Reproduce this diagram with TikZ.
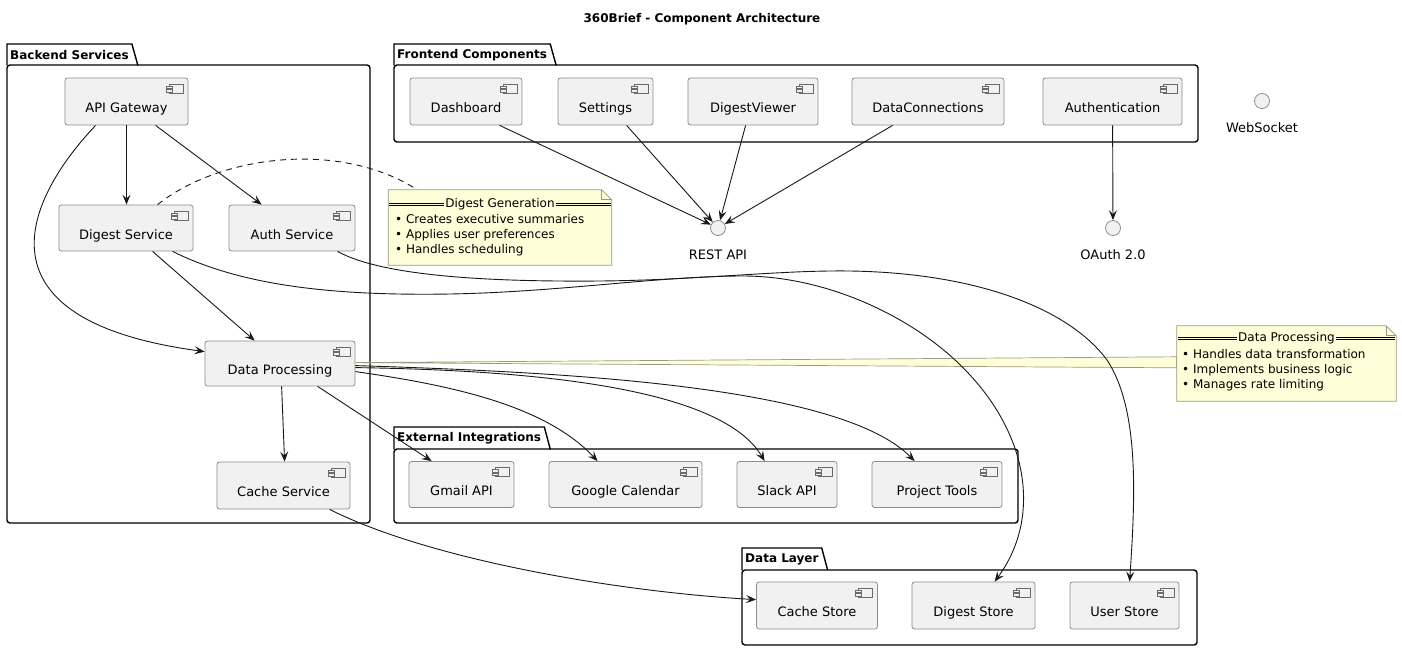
\documentclass[tikz,border=0pt]{standalone}
\usepackage{fontspec}
\setmainfont{DejaVu Sans}
\usetikzlibrary{arrows.meta,calc}
\definecolor{compfill}{HTML}{F1F1F1}
\definecolor{compline}{HTML}{8C8C8C}
\definecolor{iconline}{HTML}{6A6A6A}
\definecolor{notefill}{HTML}{FEFED8}
\definecolor{noteline}{HTML}{9A9A80}
\definecolor{edgecol}{HTML}{181818}
\tikzset{
  comp/.style={draw=compline, fill=compfill, rounded corners=2.5pt, line width=0.8pt,
    inner sep=0pt, text height=24.5pt, text depth=2pt, font=\fontsize{13}{15}\selectfont,
    path picture={
      \coordinate (pne) at (path picture bounding box.north east);
      \draw[iconline, fill=compfill, line width=0.6pt, sharp corners] ([xshift=-19pt,yshift=-6pt]pne) rectangle ([xshift=-5pt,yshift=-15pt]pne);
      \draw[iconline, fill=compfill, line width=0.6pt, sharp corners] ([xshift=-22pt,yshift=-8pt]pne) rectangle ([xshift=-16pt,yshift=-10.5pt]pne);
      \draw[iconline, fill=compfill, line width=0.6pt, sharp corners] ([xshift=-22pt,yshift=-11.5pt]pne) rectangle ([xshift=-16pt,yshift=-14pt]pne);
    }},
  iface/.style={circle, draw=compline, fill=compfill, minimum size=15pt, inner sep=0pt, line width=0.8pt},
  ifacelbl/.style={font=\fontsize{13}{15}\selectfont, anchor=base, inner sep=0pt},
  pkgtitle/.style={font=\bfseries\fontsize{12}{14}\selectfont, anchor=north west, inner xsep=3pt, inner ysep=0pt},
  pkgline/.style={draw=black, line width=1.4pt},
  notebox/.style={inner sep=0pt},
  noteshape/.style={draw=noteline, fill=notefill, line width=0.7pt},
  notehead/.style={font=\fontsize{12}{14}\selectfont, inner xsep=1pt, inner ysep=0pt},
  notetext/.style={font=\fontsize{12}{14}\selectfont, inner sep=0pt, anchor=base west},
  hdrline/.style={draw=black, line width=0.6pt},
  edge/.style={draw=edgecol, line width=0.9pt, -{Stealth[length=10pt,width=8pt,inset=4pt]}},
  noteedge/.style={draw=edgecol, line width=0.9pt, dash pattern=on 6pt off 5pt},
}
\begin{document}
\begin{tikzpicture}[x=1pt,y=-1pt]
\useasboundingbox (0,0) rectangle (1402,651);

% title
\node[font=\bfseries\fontsize{12}{14}\selectfont] (title) at (702,19) {360Brief - Component Architecture};

% ---------- packages ----------
\node[pkgtitle, minimum height=21pt] (bt) at (7,44) {Backend Services};
\draw[pkgline] (bt.south west) -- (bt.north west) -- (bt.north east) -- ([xshift=6pt]bt.south east);
\draw[pkgline, rounded corners=3pt] (7,65) rectangle (370,523);

\node[pkgtitle, minimum height=21pt] (ft) at (394,44) {Frontend Components};
\draw[pkgline] (ft.south west) -- (ft.north west) -- (ft.north east) -- ([xshift=6pt]ft.south east);
\draw[pkgline, rounded corners=3pt] (394,65) rectangle (1198,142);

\node[pkgtitle, minimum height=22pt] (et) at (394,427) {External Integrations};
\draw[pkgline] (et.south west) -- (et.north west) -- (et.north east) -- ([xshift=6pt]et.south east);
\draw[pkgline, rounded corners=3pt] (394,449) rectangle (1018,523);

\node[pkgtitle, minimum height=22pt] (lt) at (742,548) {Data Layer};
\draw[pkgline] (lt.south west) -- (lt.north west) -- (lt.north east) -- ([xshift=6pt]lt.south east);
\draw[pkgline, rounded corners=3pt] (742,570) rectangle (1197,645);

% ---------- components ----------
\node[comp, minimum width=123pt, minimum height=47pt] (gw) at (126.5,101.5) {API Gateway};
\node[comp, minimum width=134pt, minimum height=46pt] (dsvc) at (126,228) {Digest Service};
\node[comp, minimum width=126pt, minimum height=46pt] (asvc) at (292,228) {Auth Service};
\node[comp, minimum width=150pt, minimum height=45pt] (dp) at (280,363.5) {Data Processing};
\node[comp, minimum width=133pt, minimum height=47pt] (csvc) at (283.5,485.5) {Cache Service};

\node[comp, minimum width=112pt, minimum height=47pt] (dash) at (466,101.5) {Dashboard};
\node[comp, minimum width=95pt, minimum height=47pt] (sett) at (605.5,101.5) {Settings};
\node[comp, minimum width=130pt, minimum height=47pt] (dview) at (753,101.5) {DigestViewer};
\node[comp, minimum width=152pt, minimum height=47pt] (dconn) at (928,101.5) {DataConnections};
\node[comp, minimum width=139pt, minimum height=47pt] (auth) at (1112.5,101.5) {Authentication};

\node[comp, minimum width=105pt, minimum height=46pt] (gmail) at (461.5,484.5) {Gmail API};
\node[comp, minimum width=153pt, minimum height=46pt] (gcal) at (625.5,484.5) {Google Calendar};
\node[comp, minimum width=100pt, minimum height=46pt] (slack) at (787,484.5) {Slack API};
\node[comp, minimum width=130pt, minimum height=46pt] (ptools) at (937,484.5) {Project Tools};

\node[comp, minimum width=121pt, minimum height=47pt] (cstore) at (817,605.5) {Cache Store};
\node[comp, minimum width=123pt, minimum height=47pt] (dstore) at (973.5,605.5) {Digest Store};
\node[comp, minimum width=109pt, minimum height=47pt] (ustore) at (1124.5,605.5) {User Store};

% ---------- interfaces ----------
\node[iface] (ws) at (1262,101) {};
\node[ifacelbl] (wsl) at (1262,132) {WebSocket};
\node[iface] (rest) at (718,228) {};
\node[ifacelbl] (restl) at (718,259) {REST API};
\node[iface] (oauth) at (1113,228) {};
\node[ifacelbl] (oauthl) at (1113,259) {OAuth 2.0};

% ---------- note: Digest Generation ----------
\node[notebox, minimum width=223pt, minimum height=75pt] (n1) at (500,227.5) {};
\draw[noteshape] (n1.north west) -- ([xshift=-10pt]n1.north east) -- ([yshift=-10pt]n1.north east) -- (n1.south east) -- (n1.south west) -- cycle;
\draw[noteshape, fill=none] ([xshift=-10pt]n1.north east) |- ([yshift=-10pt]n1.north east);
\node[notehead] (n1h) at (500,204) {Digest Generation};
\coordinate (n1hl) at (n1.west |- n1h.west);
\coordinate (n1hr) at (n1.east |- n1h.east);
\draw[hdrline] ([xshift=1pt,yshift=1.2pt]n1hl) -- ([yshift=1.2pt]n1h.west);
\draw[hdrline] ([xshift=1pt,yshift=-1.2pt]n1hl) -- ([yshift=-1.2pt]n1h.west);
\draw[hdrline] ([yshift=1.2pt]n1h.east) -- ([xshift=-1pt,yshift=1.2pt]n1hr);
\draw[hdrline] ([yshift=-1.2pt]n1h.east) -- ([xshift=-1pt,yshift=-1.2pt]n1hr);
\node[notetext] (n1a) at (395,223.5) {• Creates executive summaries};
\node[notetext] (n1b) at (395,238.5) {• Applies user preferences};
\node[notetext] (n1c) at (395,253.5) {• Handles scheduling};

% ---------- note: Data Processing (with wedge connector) ----------
\node[notebox, minimum width=219pt, minimum height=75pt] (n2) at (1286.5,363.5) {};
\draw[noteshape] ([yshift=-22pt]dp.north east) -- ([yshift=-31pt]n2.north west) -- ([yshift=-42pt]n2.north west) -- cycle;
\draw[noteshape] (n2.north west) -- ([xshift=-10pt]n2.north east) -- ([yshift=-10pt]n2.north east) -- (n2.south east) -- (n2.south west) -- cycle;
\draw[noteshape, fill=none] ([xshift=-10pt]n2.north east) |- ([yshift=-10pt]n2.north east);
\node[notehead] (n2h) at (1286.5,338) {Data Processing};
\coordinate (n2hl) at (n2.west |- n2h.west);
\coordinate (n2hr) at (n2.east |- n2h.east);
\draw[hdrline] ([xshift=1pt,yshift=1.2pt]n2hl) -- ([yshift=1.2pt]n2h.west);
\draw[hdrline] ([xshift=1pt,yshift=-1.2pt]n2hl) -- ([yshift=-1.2pt]n2h.west);
\draw[hdrline] ([yshift=1.2pt]n2h.east) -- ([xshift=-1pt,yshift=1.2pt]n2hr);
\draw[hdrline] ([yshift=-1.2pt]n2h.east) -- ([xshift=-1pt,yshift=-1.2pt]n2hr);
\node[notetext] (n2a) at (1182,358) {• Handles data transformation};
\node[notetext] (n2b) at (1182,373) {• Implements business logic};
\node[notetext] (n2c) at (1182,388) {• Manages rate limiting};

% ---------- connectors ----------
% backend internal
\draw[edge] (gw.south) -- (gw.south |- dsvc.north);
\draw[edge] ([xshift=91pt]gw.south west) -- ([xshift=33pt]asvc.north west);
\draw[edge] ([xshift=31pt]gw.south west) .. controls (25,200) and (-30,320) .. ([yshift=-11pt]dp.north west);
\draw[edge] ([xshift=94pt]dsvc.south west) -- ([xshift=50pt]dp.north west);
\draw[edge] ([xshift=77pt]dp.south west) -- ([xshift=68pt]csvc.north west);
\draw[noteedge] ([xshift=99pt]dsvc.north west) .. controls (220,155) and (340,140) .. ([xshift=29pt]n1.north west);

% data processing to external
\draw[edge] ([xshift=113pt]dp.south west) -- ([xshift=23pt]gmail.north west);
\draw[edge] ([yshift=-31pt]dp.north east) .. controls (450,385) and (545,405) .. ([xshift=49pt]gcal.north west);
\draw[edge] ([yshift=-27pt]dp.north east) .. controls (520,370) and (720,385) .. ([xshift=28pt]slack.north west);
\draw[edge] ([yshift=-25pt]dp.north east) .. controls (560,372) and (840,385) .. ([xshift=43pt]ptools.north west);

% to data layer
\draw[edge] ([xshift=113pt]csvc.south west) .. controls (430,560) and (620,592) .. ([yshift=-18pt]cstore.north west);
\draw[edge] ([xshift=114pt]dsvc.south west) .. controls (240,285) and (330,296) .. (450,294)
  .. controls (560,292) and (660,276) .. (743,276)
  .. controls (830,276) and (920,320) .. (970,375)
  .. controls (1030,440) and (1040,520) .. ([xshift=83pt]dstore.north west);
\draw[edge] ([xshift=109pt]asvc.south west) .. controls (380,275) and (480,282) .. (600,281)
  .. controls (700,280) and (780,270) .. (850,271)
  .. controls (980,273) and (1070,310) .. (1107,360)
  .. controls (1140,410) and (1135,500) .. ([xshift=60pt]ustore.north west);

% frontend to interfaces
\draw[edge] ([xshift=90pt]dash.south west) -- (rest);
\draw[edge] ([xshift=69pt]sett.south west) -- (rest);
\draw[edge] ([xshift=58pt]dview.south west) -- (rest);
\draw[edge] ([xshift=41pt]dconn.south west) -- (rest);
\draw[edge] ([xshift=70pt]auth.south west) -- (oauth);
\end{tikzpicture}
\end{document}
